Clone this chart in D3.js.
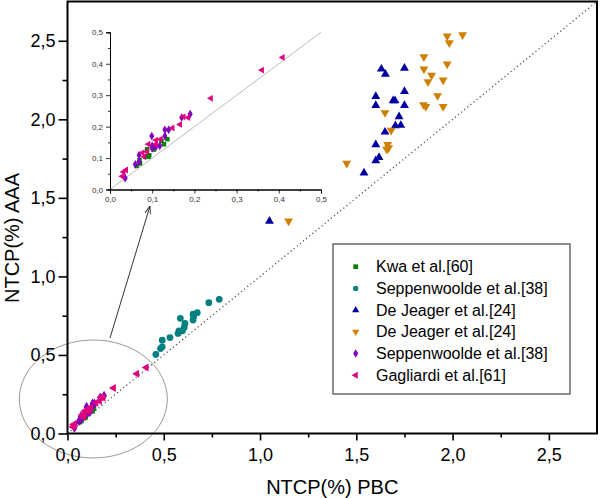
<!DOCTYPE html>
<html><head><meta charset="utf-8">
<script src="https://cdn.jsdelivr.net/npm/d3@7"></script>
<style>body{margin:0;background:#fff}svg{display:block}</style></head>
<body><svg id="c" width="600" height="498"></svg>
<script>
// ---- data ----
const kwaX  = [0.136,0.122,0.128,0.104,0.103,0.088,0.093,0.085,0.091,0.090,0.071,0.063,0.070];
const kwaY  = [0.160,0.155,0.144,0.127,0.136,0.128,0.109,0.104,0.104,0.107,0.083,0.075,0.093];
const sepAX = [0.459,0.483,0.492,0.492,0.532,0.574,0.579,0.597,0.606,0.610,0.586,0.652,0.655,0.674,0.652,0.734,0.788];
const sepAY = [0.503,0.541,0.552,0.594,0.611,0.637,0.654,0.654,0.675,0.701,0.733,0.722,0.743,0.769,0.760,0.833,0.854];
const djUpX = [1.049,1.540,1.601,1.618,1.601,1.649,1.703,1.722,1.731,1.601,1.601,1.691,1.701,1.750,1.750,1.630,1.651,1.750];
const djUpY = [1.352,1.659,1.737,1.758,1.839,1.919,1.960,2.017,1.962,2.089,2.146,2.119,2.119,2.089,2.178,2.320,2.288,2.326];
const djDnX = [1.148,1.450,1.649,1.681,1.663,1.668,1.658,1.851,1.851,1.891,1.872,1.972,1.951,1.922,1.849,1.861,1.951,1.972,1.983,2.052];
const djDnY = [1.352,1.720,2.042,1.930,1.839,1.818,1.809,2.398,2.320,2.280,2.239,2.352,2.250,2.150,2.093,2.081,2.081,2.530,2.487,2.538];
const sepBX = [0.190,0.170,0.130,0.139,0.099,0.130,0.100,0.109,0.118,0.100,0.069,0.069,0.060,0.036];
const sepBY = [0.240,0.229,0.190,0.190,0.170,0.170,0.139,0.136,0.139,0.131,0.109,0.088,0.080,0.036];
const gagX  = [0.409,0.360,0.239,0.166,0.148,0.174,0.185,0.120,0.109,0.109,0.091,0.077,0.081,0.088,0.032,0.038,0.029];
const gagY  = [0.420,0.380,0.290,0.207,0.196,0.231,0.229,0.160,0.157,0.144,0.144,0.117,0.104,0.120,0.056,0.062,0.042];
const seriesNames = ["Kwa et al.[60]","Seppenwoolde et al.[38]","De Jeager et al.[24]","De Jeager et al.[24]","Seppenwoolde et al.[38]","Gagliardi et al.[61]"];
const mainTicks = [0,0.5,1.0,1.5,2.0,2.5];
const mainMinor = [0.25,0.75,1.25,1.75,2.25];
const insetTicks = [0,0.1,0.2,0.3,0.4,0.5];
const insetMinor = [0.05,0.15,0.25,0.35,0.45];

// ---- styles ----
const FONT = "'Liberation Sans', Arial, sans-serif";
const series = [
  {x:kwaX, y:kwaY, color:"#008000", sym:d3.symbolSquare, rot:0, inset:true},
  {x:sepAX,y:sepAY,color:"#008080", sym:d3.symbolCircle, rot:0, inset:false},
  {x:djUpX,y:djUpY,color:"#0000a0", sym:d3.symbolTriangle, rot:0, inset:false},
  {x:djDnX,y:djDnY,color:"#d08000", sym:d3.symbolTriangle, rot:180, inset:false},
  {x:sepBX,y:sepBY,color:"#8000c0", sym:d3.symbolDiamond, rot:0, inset:true},
  {x:gagX, y:gagY, color:"#e0007f", sym:d3.symbolTriangle, rot:-90, inset:true}
];
const mainSize = [28,36,34,34,30,28];
const insetSize = [20,20,20,20,22,20];

const svg = d3.select("#c");
const fmt = d => d3.format(".1f")(d).replace(".", ",");

// ---- main plot ----
const x = d3.scaleLinear().domain([0,2.75]).range([67.5,597]);
const y = d3.scaleLinear().domain([0,2.75]).range([433.5,1.5]);

// diagonal
svg.append("line")
  .attr("x1",x(0)).attr("y1",y(0)).attr("x2",x(2.75)).attr("y2",y(2.75))
  .attr("stroke","#444").attr("stroke-width",1.2).attr("stroke-dasharray","1.2,2.8");

// ellipse + arrow
svg.append("ellipse").attr("cx",93.3).attr("cy",399).attr("rx",74).attr("ry",59)
  .attr("fill","none").attr("stroke","#999").attr("stroke-width",1);
const defs = svg.append("defs");
defs.append("marker").attr("id","ah").attr("viewBox","0 0 10 10").attr("refX",10).attr("refY",5)
  .attr("markerWidth",8).attr("markerHeight",8).attr("orient","auto-start-reverse")
  .append("path").attr("d","M0,1.5 L10,5 L0,8.5").attr("fill","none").attr("stroke","#333").attr("stroke-width",1.2);
svg.append("line").attr("x1",110).attr("y1",338).attr("x2",150).attr("y2",206)
  .attr("stroke","#333").attr("stroke-width",1).attr("marker-end","url(#ah)");

// axes ticks
const gy = svg.append("g").attr("transform",`translate(${x(0)},0)`)
  .call(d3.axisLeft(y).tickValues(mainTicks).tickSize(9).tickPadding(3).tickFormat(fmt));
const gyMin = svg.append("g").attr("transform",`translate(${x(0)},0)`)
  .call(d3.axisLeft(y).tickValues(mainMinor).tickSize(5).tickFormat(""));
const gx = svg.append("g").attr("transform",`translate(0,${y(0)})`)
  .call(d3.axisBottom(x).tickValues(mainTicks).tickSize(7).tickPadding(8).tickFormat(fmt));
const gxMin = svg.append("g").attr("transform",`translate(0,${y(0)})`)
  .call(d3.axisBottom(x).tickValues(mainMinor).tickSize(4).tickFormat(""));
[gy,gyMin,gx,gxMin].forEach(g=>{
  g.select(".domain").remove();
  g.selectAll("line").attr("stroke","#000").attr("stroke-width",1.6);
  g.selectAll("text").attr("font-family",FONT).attr("font-size",18).attr("fill","#000");
});

// frame
svg.append("rect").attr("x",x(0)).attr("y",y(2.75)).attr("width",x(2.75)-x(0)).attr("height",y(0)-y(2.75))
  .attr("fill","none").attr("stroke","#000").attr("stroke-width",2);

// axis titles
svg.append("text").attr("x",(x(0)+x(2.75))/2).attr("y",494).attr("text-anchor","middle")
  .attr("font-family",FONT).attr("font-size",20).text("NTCP(%) PBC");
svg.append("text").attr("transform","translate(19,238) rotate(-90)").attr("text-anchor","middle")
  .attr("font-family",FONT).attr("font-size",20).text("NTCP(%) AAA");

// main points
series.forEach((s,i)=>{
  const sym = d3.symbol().type(s.sym).size(mainSize[i]);
  svg.append("g").selectAll("path").data(d3.range(s.x.length)).join("path")
    .attr("d",sym)
    .attr("transform",k=>`translate(${x(s.x[k])},${y(s.y[k])}) rotate(${s.rot})`)
    .attr("fill",s.color);
});

// ---- inset ----
const ix = d3.scaleLinear().domain([0,0.5]).range([110,321]);
const iy = d3.scaleLinear().domain([0,0.5]).range([189.5,32.3]);
svg.append("line").attr("x1",ix(0)).attr("y1",iy(0)).attr("x2",ix(0.5)).attr("y2",iy(0.5))
  .attr("stroke","#aaa").attr("stroke-width",0.8);
const iyA = svg.append("g").attr("transform",`translate(${ix(0)},0)`)
  .call(d3.axisLeft(iy).tickValues(insetTicks).tickSize(4).tickPadding(3).tickFormat(fmt));
const iyM = svg.append("g").attr("transform",`translate(${ix(0)},0)`)
  .call(d3.axisLeft(iy).tickValues(insetMinor).tickSize(2).tickFormat(""));
const ixA = svg.append("g").attr("transform",`translate(0,${iy(0)})`)
  .call(d3.axisBottom(ix).tickValues(insetTicks).tickSize(4).tickPadding(3).tickFormat(fmt));
const ixM = svg.append("g").attr("transform",`translate(0,${iy(0)})`)
  .call(d3.axisBottom(ix).tickValues(insetMinor).tickSize(2).tickFormat(""));
[iyA,iyM,ixA,ixM].forEach(g=>{
  g.select(".domain").attr("stroke","#000").attr("stroke-width",1);
  g.selectAll("line").attr("stroke","#000").attr("stroke-width",0.8);
  g.selectAll("text").attr("font-family",FONT).attr("font-size",8).attr("fill","#333");
});
series.forEach((s,i)=>{
  if(!s.inset) return;
  const sym = d3.symbol().type(s.sym).size(insetSize[i]);
  svg.append("g").selectAll("path").data(d3.range(s.x.length)).join("path")
    .attr("d",sym)
    .attr("transform",k=>`translate(${ix(s.x[k])},${iy(s.y[k])}) rotate(${s.rot})`)
    .attr("fill",s.color);
});

// ---- legend ----
const lg = svg.append("g");
lg.append("rect").attr("x",333).attr("y",244).attr("width",237).attr("height",150)
  .attr("fill","#fff").attr("stroke","#444").attr("stroke-width",1.2);
series.forEach((s,i)=>{
  const ry = 266.7 + 21.7*i;
  lg.append("path").attr("d",d3.symbol().type(s.sym).size(22)())
    .attr("transform",`translate(355.7,${ry}) rotate(${s.rot})`).attr("fill",s.color);
  lg.append("text").attr("x",376).attr("y",ry).attr("dy","0.35em")
    .attr("font-family",FONT).attr("font-size",16).attr("fill","#000").text(seriesNames[i]);
});
</script></body></html>
